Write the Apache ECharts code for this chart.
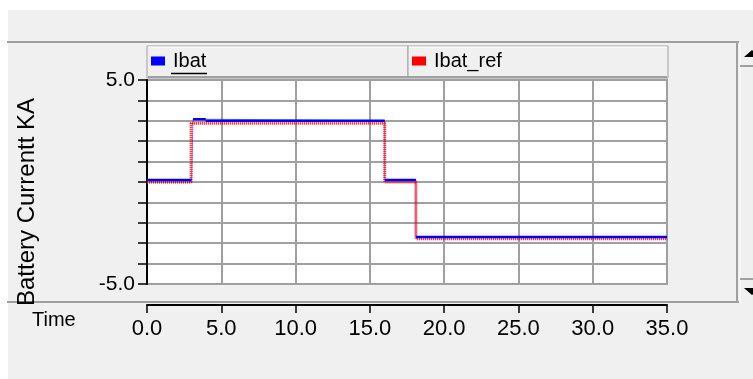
<!DOCTYPE html>
<html>
<head>
<meta charset="utf-8">
<script src="https://cdn.jsdelivr.net/npm/echarts@6/dist/echarts.min.js"></script>
<style>
html,body{margin:0;padding:0;background:#ffffff;}
#c{width:753px;height:379px;}
</style>
</head>
<body>
<div id="c"></div>
<script>
// ---- data ----
const seriesNames = ['Ibat', 'Ibat_ref'];
const xTickValues = [0, 5, 10, 15, 20, 25, 30, 35];
const yLabelValues = [5, -5];

// Ibat (blue): piecewise-constant segments
const ibatStart = [0.0, 3.1, 3.95, 16.0, 18.1];
const ibatEnd   = [3.0, 3.95, 16.0, 18.1, 35.0];
const ibatLevel = [0.1, 3.08, 3.0, 0.1, -2.7];

// Ibat_ref (red): piecewise-constant segments
const refStart = [0.0, 2.97, 16.0, 18.1];
const refEnd   = [2.97, 16.0, 18.1, 35.0];
const refLevel = [0.0, 2.88, 0.0, -2.78];

// ---- build series data ----
function stepPoints(s, e, l) {
  const out = [];
  for (let i = 0; i < s.length; i++) { out.push([s[i], l[i]]); out.push([e[i], l[i]]); }
  return out;
}
function brokenPoints(s, e, l) {
  const out = [];
  for (let i = 0; i < s.length; i++) {
    out.push([s[i], l[i]]); out.push([e[i], l[i]]);
    if (i < s.length - 1) out.push([e[i], null]);
  }
  return out;
}

const GRID_L = 147, GRID_T = 80, GRID_W = 520, GRID_H = 204;
const LINE = '#a0a0a0';
const FONT = '"Liberation Sans", Arial, sans-serif';

const chart = echarts.init(document.getElementById('c'), null, {renderer: 'canvas'});

const graphics = [
  // gray panel
  {type: 'rect', z: -10, silent: true, shape: {x: 8, y: 10, width: 745, height: 369}, style: {fill: '#f0f0f0'}},
  // top separator
  {type: 'line', z: -5, silent: true, shape: {x1: 7, y1: 42, x2: 739, y2: 42}, style: {stroke: LINE, lineWidth: 2}},
  // bottom separator
  {type: 'line', z: -5, silent: true, shape: {x1: 7, y1: 302, x2: 739, y2: 302}, style: {stroke: LINE, lineWidth: 2}},
  // right separator lines / scrollbar
  {type: 'line', z: -5, silent: true, shape: {x1: 737, y1: 42, x2: 737, y2: 303}, style: {stroke: LINE, lineWidth: 2}},
  {type: 'line', z: -5, silent: true, shape: {x1: 740, y1: 42, x2: 740, y2: 303}, style: {stroke: '#ffffff', lineWidth: 1}},
  {type: 'line', z: -5, silent: true, shape: {x1: 740, y1: 66, x2: 753, y2: 66}, style: {stroke: LINE, lineWidth: 2}},
  {type: 'line', z: -5, silent: true, shape: {x1: 740, y1: 279, x2: 753, y2: 279}, style: {stroke: LINE, lineWidth: 2}},
  {type: 'polygon', z: -4, silent: true, shape: {points: [[744, 57], [752, 50], [760, 57]]}, style: {fill: '#000000'}},
  {type: 'polygon', z: -4, silent: true, shape: {points: [[744, 288], [760, 288], [752, 295]]}, style: {fill: '#000000'}},
  // legend header buttons
  {type: 'rect', z: -3, silent: true, shape: {x: 147, y: 46, width: 261, height: 32}, style: {fill: '#f0f0f0', stroke: LINE, lineWidth: 1}},
  {type: 'rect', z: -3, silent: true, shape: {x: 408, y: 46, width: 260, height: 32}, style: {fill: '#f0f0f0', stroke: LINE, lineWidth: 1}},
  {type: 'line', z: -2, silent: true, shape: {x1: 148, y1: 47, x2: 407, y2: 47}, style: {stroke: '#ffffff', lineWidth: 1}},
  {type: 'line', z: -2, silent: true, shape: {x1: 409, y1: 47, x2: 667, y2: 47}, style: {stroke: '#ffffff', lineWidth: 1}},
  {type: 'line', z: -2, silent: true, shape: {x1: 148, y1: 77, x2: 667, y2: 77}, style: {stroke: LINE, lineWidth: 2}},
  // underline of "Ibat"
  {type: 'line', z: 10, silent: true, shape: {x1: 171, y1: 73.5, x2: 207, y2: 73.5}, style: {stroke: '#000000', lineWidth: 1.5}},
  // "Time" label
  {type: 'text', z: 10, silent: true, style: {x: 32, y: 320, text: 'Time', font: '20px ' + FONT, fill: '#000000', textVerticalAlign: 'middle', textAlign: 'left'}},
  // y-axis title
  {type: 'text', z: 10, silent: true, x: 27, y: 202, rotation: Math.PI / 2,
   style: {x: 0, y: 0, text: 'Battery Currentt KA', font: '24px ' + FONT, fill: '#000000', textAlign: 'center', textVerticalAlign: 'middle'}}
];

const option = {
  animation: false,
  backgroundColor: 'transparent',
  textStyle: {fontFamily: FONT},
  graphic: graphics,
  legend: [
    {data: [seriesNames[0]], left: 151, top: 51, padding: 0, itemWidth: 14, itemHeight: 9, icon: 'rect',
     textStyle: {fontSize: 20, color: '#000', fontFamily: FONT, padding: [0, 0, 0, 3]}, selectedMode: false},
    {data: [seriesNames[1]], left: 412, top: 51, padding: 0, itemWidth: 14, itemHeight: 9, icon: 'rect',
     textStyle: {fontSize: 20, color: '#000', fontFamily: FONT, padding: [0, 0, 0, 3]}, selectedMode: false}
  ],
  grid: {left: GRID_L, top: GRID_T, width: GRID_W, height: GRID_H, show: true, backgroundColor: '#ffffff',
         borderColor: LINE, borderWidth: 2, containLabel: false},
  xAxis: {
    type: 'value', min: 0, max: 35, interval: 5, offset: 21,
    axisLine: {show: true, onZero: false, lineStyle: {color: '#000', width: 2}},
    axisTick: {show: true, inside: false, length: 8, lineStyle: {color: '#000', width: 1.5}},
    axisLabel: {show: true, margin: 13, fontSize: 22, color: '#000', fontFamily: FONT,
                formatter: function (v) { return xTickValues.indexOf(v) >= 0 ? v.toFixed(1) : ''; }},
    splitLine: {show: true, lineStyle: {color: LINE, width: 2}}
  },
  yAxis: {
    type: 'value', min: -5, max: 5, interval: 1,
    axisLine: {show: true, onZero: false, lineStyle: {color: '#000', width: 2}},
    axisTick: {show: true, inside: false, length: 9, lineStyle: {color: '#000', width: 1.5}},
    axisLabel: {show: true, margin: 12, fontSize: 21, color: '#000', fontFamily: FONT,
                formatter: function (v) { return yLabelValues.indexOf(v) >= 0 ? v.toFixed(1) : ''; }},
    splitLine: {show: true, lineStyle: {color: LINE, width: 2}}
  },
  series: [
    {name: seriesNames[0], type: 'line', z: 2, showSymbol: false, silent: true, color: '#0000ff',
     data: stepPoints(ibatStart, ibatEnd, ibatLevel),
     lineStyle: {color: 'rgba(0,0,255,0.45)', width: 1}},
    {name: seriesNames[1], type: 'line', z: 3, showSymbol: false, silent: true, color: '#ff0000',
     data: stepPoints(refStart, refEnd, refLevel),
     lineStyle: {color: '#ff0000', width: 3, type: [1, 1]}},
    {name: seriesNames[0], type: 'line', z: 4, showSymbol: false, silent: true, color: '#0000ff', connectNulls: false,
     data: brokenPoints(ibatStart, ibatEnd, ibatLevel),
     lineStyle: {color: '#0000ff', width: 2.5}}
  ]
};
chart.setOption(option);
</script>
</body>
</html>
